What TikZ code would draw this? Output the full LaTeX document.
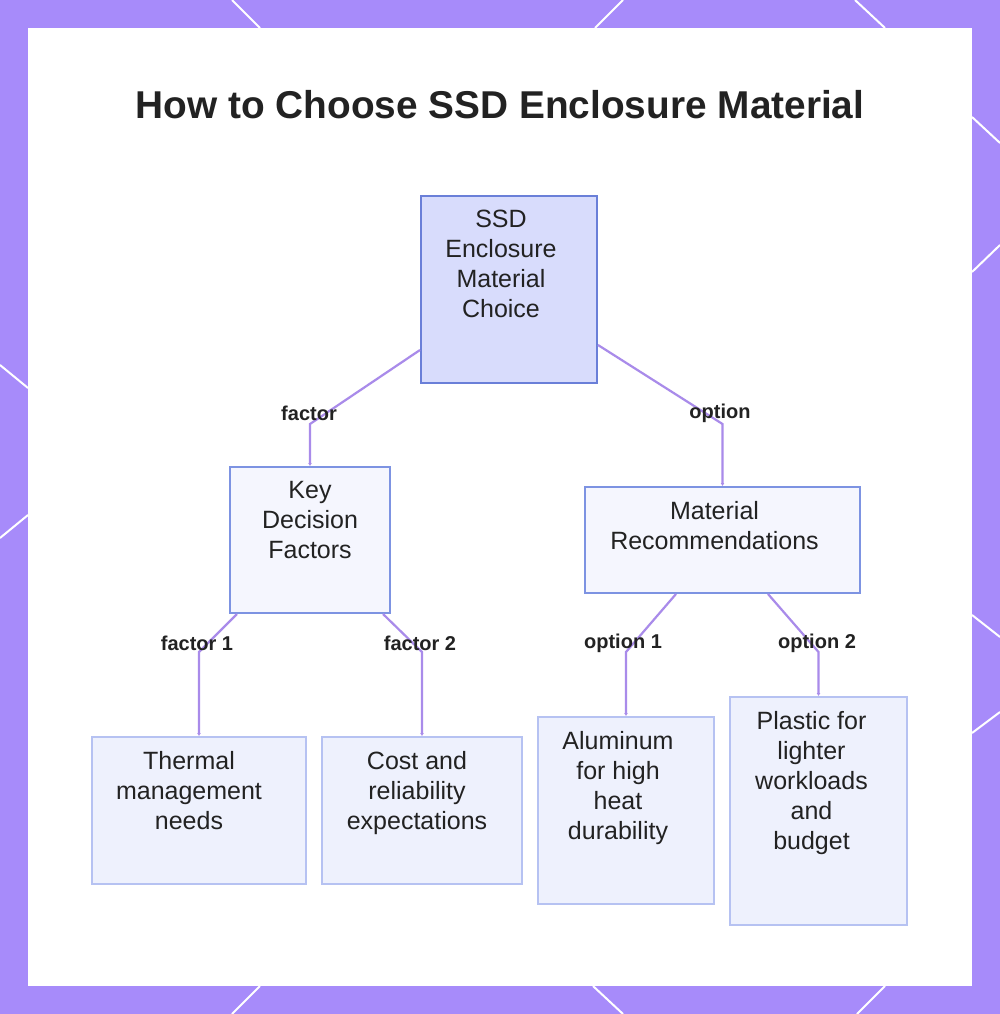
\documentclass[tikz,border=0pt]{standalone}
\usepackage{fontspec}
\setmainfont{Liberation Sans}
\usetikzlibrary{arrows.meta}
\usepackage{xcolor}
\definecolor{framepurple}{HTML}{A78BFA}
\definecolor{edgepurple}{HTML}{A98BEA}
\definecolor{rootfill}{HTML}{D8DCFC}
\definecolor{rootline}{HTML}{6A7FD8}
\definecolor{midfill}{HTML}{F5F6FE}
\definecolor{midline}{HTML}{7D93E2}
\definecolor{leaffill}{HTML}{EEF1FD}
\definecolor{leafline}{HTML}{B6C2F2}
\definecolor{inktext}{HTML}{222222}

\begin{document}
\begin{tikzpicture} [x=1pt, y=-1pt,
  rootbox/.style={draw=rootline, fill=rootfill, line width=2pt, inner sep=0pt},
  midbox/.style={draw=midline, fill=midfill, line width=2pt, inner sep=0pt},
  leafbox/.style={draw=leafline, fill=leaffill, line width=2pt, inner sep=0pt},
  boxtext/.style={anchor=north, align=center, inner sep=0pt, text=inktext, font=\fontsize{25}{30}\selectfont},
  edgelabel/.style={inner sep=0pt, text=inktext, font=\bfseries\fontsize{20}{24}\selectfont},
  edge/.style={draw=edgepurple, line width=2.2pt, -{Latex[length=3pt,width=4pt]}}] %material decision tree
\useasboundingbox (0,0) rectangle (1000,1014);
% frame
\fill[framepurple] (0,0) rectangle (1000,1014);
\fill[white] (28,28) rectangle (972,986);
\foreach \a/\b/\c/\d in {232/0/260/28, 623/0/595/28, 855/0/885/28, 972/117/1000/143, 1000/245/972/272, 972/615/1000/637, 1000/712/972/733, 0/365/28/388, 28/515/0/538, 260/986/232/1014, 593/986/623/1014, 885/986/857/1014}
  \draw[white, line width=2pt] (\a,\b) -- (\c,\d);
\node[font=\bfseries\fontsize{38.8}{44}\selectfont, text=inktext] (title) at (500,105) {How to Choose SSD Enclosure Material};
% boxes
\node[rootbox, minimum width=176pt, minimum height=187pt] (root) at (509,289.5) {};
\node[midbox, minimum width=160pt, minimum height=146pt] (key) at (310,540) {};
\node[midbox, minimum width=275pt, minimum height=106pt] (mat) at (722.5,540) {};
\node[leafbox, minimum width=214pt, minimum height=147pt] (therm) at (199,810.5) {};
\node[leafbox, minimum width=200pt, minimum height=147pt] (cost) at (422,810.5) {};
\node[leafbox, minimum width=176pt, minimum height=187pt] (alu) at (626,810.5) {};
\node[leafbox, minimum width=177pt, minimum height=228pt] (plast) at (818.5,811) {};
% texts
\node[boxtext] (roottext) at ([xshift=-8pt,yshift=-15pt]root.north) {SSD\\Enclosure\\Material\\Choice};
\node[boxtext] (keytext) at ([yshift=-15pt]key.north) {Key\\Decision\\Factors};
\node[boxtext] (mattext) at ([xshift=-8pt,yshift=-15pt]mat.north) {Material\\Recommendations};
\node[boxtext] (thermtext) at ([xshift=-10pt,yshift=-15pt]therm.north) {Thermal\\management\\needs};
\node[boxtext] (costtext) at ([xshift=-5pt,yshift=-15pt]cost.north) {Cost and\\reliability\\expectations};
\node[boxtext] (alutext) at ([xshift=-8pt,yshift=-15pt]alu.north) {Aluminum\\for high\\heat\\durability};
\node[boxtext] (plasttext) at ([xshift=-7pt,yshift=-15pt]plast.north) {Plastic for\\lighter\\workloads\\and\\budget};
% connectors
\draw[edge] ([yshift=-60.5pt]root.west) -- ([yshift=42pt]key.north) -- (key.north);
\draw[edge] ([yshift=-55.5pt]root.east) -- ([yshift=62pt]mat.north) -- (mat.north);
\draw[edge] ([xshift=8pt]key.south west) -- ([yshift=84pt]therm.north) -- (therm.north);
\draw[edge] ([xshift=-8pt]key.south east) -- ([yshift=84pt]cost.north) -- (cost.north);
\draw[edge] ([xshift=92pt]mat.south west) -- ([yshift=64pt]alu.north) -- (alu.north);
\draw[edge] ([xshift=-93pt]mat.south east) -- ([yshift=44pt]plast.north) -- (plast.north);
% labels
\node[edgelabel] (lfactor) at (309,413) {factor};
\node[edgelabel] (loption) at (720,413) {option};
\node[edgelabel] (lfactora) at (197,643) {factor 1};
\node[edgelabel] (lfactorb) at (420,643) {factor 2};
\node[edgelabel] (loptiona) at (623,643) {option 1};
\node[edgelabel] (loptionb) at (817,643) {option 2};
\end{tikzpicture}
\end{document}
